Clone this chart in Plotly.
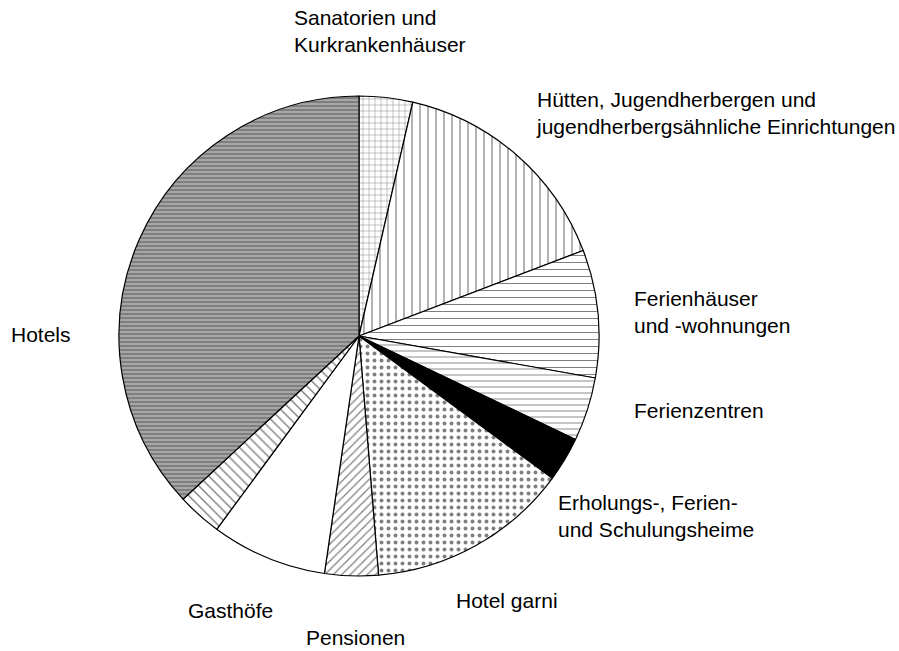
import plotly.graph_objects as go

# --- data (percent shares, clockwise from 12 o'clock) ---
categories = [
    "Sanatorien und Kurkrankenhäuser",
    "Hütten, Jugendherbergen und jugendherbergsähnliche Einrichtungen",
    "Ferienhäuser und -wohnungen",
    "Ferienzentren",
    "Erholungs-, Ferien- und Schulungsheime",
    "Hotel garni",
    "Pensionen",
    "Gasthöfe",
    "ohne Beschriftung",
    "Hotels",
]
shares = [3.6, 15.6, 8.6, 4.3, 3.0, 13.6, 3.6, 7.8, 3.0, 36.9]

label_texts = [
    "Sanatorien und<br>Kurkrankenhäuser",
    "Hütten, Jugendherbergen und<br>jugendherbergsähnliche Einrichtungen",
    "Ferienhäuser<br>und -wohnungen",
    "Ferienzentren",
    "Erholungs-, Ferien-<br>und Schulungsheime",
    "Hotel garni",
    "Pensionen",
    "Gasthöfe",
    None,
    "Hotels",
]

# --- styles ---
W, H = 899, 651
cx, cy, r = 359, 336, 240

shapes_pat = ["+", "|", "-", "-", "", ".", "/", "", "\\", "-"]
pat_size = [6, 8, 7, 6, 8, 7, 6, 8, 7, 4]
pat_sol = [0.15, 0.15, 0.15, 0.15, 0.3, 0.25, 0.2, 0.3, 0.2, 0.85]
bg = ["white"] * len(categories)
bg[4] = "black"

# label positions in page pixels (left x, middle y)
label_pos = [
    (292, 31), (534, 113), (632, 312), (632, 410), (556, 516),
    (454, 600), (304, 637), (186, 610), None, (9, 335),
]

fig = go.Figure(go.Pie(
    labels=categories,
    values=shares,
    sort=False,
    direction="clockwise",
    rotation=0,
    textinfo="none",
    showlegend=False,
    marker=dict(
        colors=bg,
        line=dict(color="black", width=1.2),
        pattern=dict(shape=shapes_pat, fgcolor="black", bgcolor=bg,
                     size=pat_size, solidity=pat_sol, fillmode="overlay"),
    ),
    domain=dict(x=[(cx - r) / W, (cx + r) / W],
                y=[(H - cy - r) / H, (H - cy + r) / H]),
))

annotations = []
for txt, pos in zip(label_texts, label_pos):
    if txt is None:
        continue
    annotations.append(dict(
        text=txt, x=pos[0] / W, y=1 - pos[1] / H,
        xref="paper", yref="paper",
        xanchor="left", yanchor="middle", align="left", showarrow=False,
        font=dict(family="Liberation Sans, Arial, sans-serif", size=21, color="black"),
    ))

fig.update_layout(
    width=W, height=H,
    margin=dict(l=0, r=0, t=0, b=0),
    paper_bgcolor="white", plot_bgcolor="white",
    annotations=annotations,
)

fig.write_html("out.html", config={"displayModeBar": False},
               post_script="document.body.style.margin='0';")
